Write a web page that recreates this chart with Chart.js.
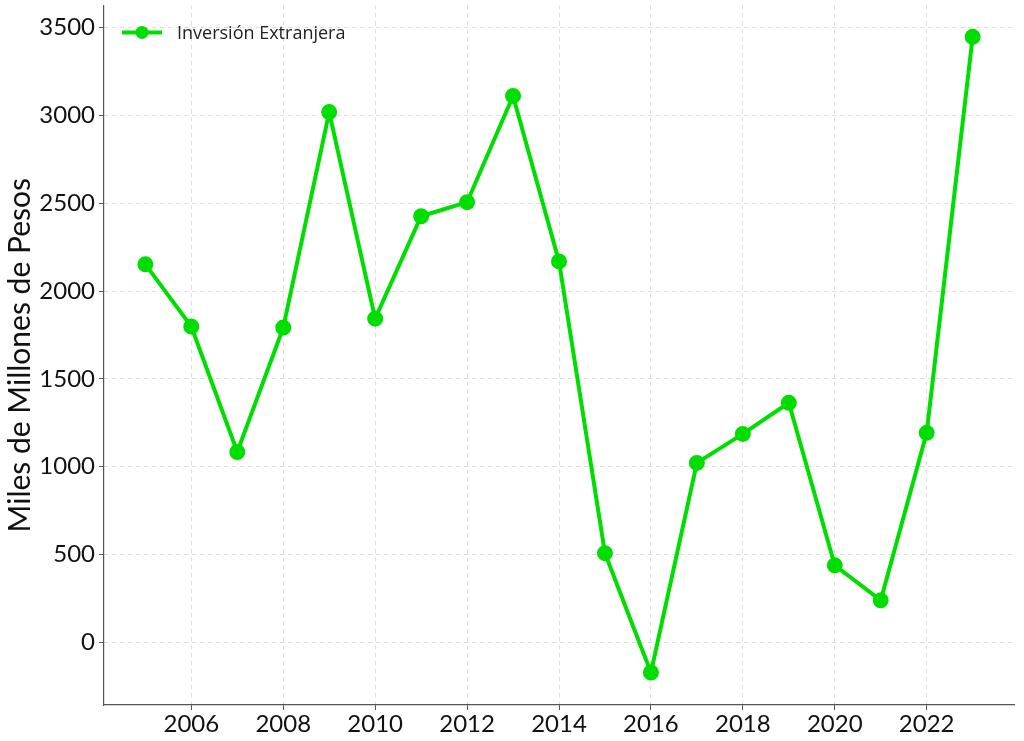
<!DOCTYPE html>
<html>
<head>
<meta charset="utf-8">
<script src="https://cdn.jsdelivr.net/npm/chart.js@4/dist/chart.umd.min.js"></script>
<style>
	html, body { margin: 0; padding: 0; background: #fff; overflow: hidden; }
	#wrap { position: absolute; left: 0; top: -13px; width: 1024px; height: 754px; }
</style>
</head>
<body>
<div id="wrap"><canvas id="graphique"></canvas></div>
<script>
// Données
const annees = [2005, 2006, 2007, 2008, 2009, 2010, 2011, 2012, 2013, 2014, 2015, 2016, 2017, 2018, 2019, 2020, 2021, 2022, 2023];
const inversion = [2152, 1798, 1084, 1792, 3019, 1843, 2426, 2506, 3111, 2169, 508, -171, 1022, 1187, 1364, 439, 240, 1193, 3447];
const ticksX = [2006, 2008, 2010, 2012, 2014, 2016, 2018, 2020, 2022];
const ticksY = [0, 500, 1000, 1500, 2000, 2500, 3000, 3500];
const serieLabel = "Inversión Extranjera";
const titreY = "Miles de Millones de Pesos";

const vert = "#00dd00";
const police = "Lato, 'Open Sans', sans-serif";

// Légende dessinée à la main (ligne + point)
const legendePlugin = {
	id: "legende",
	afterDraw(chart) {
		const ctx = chart.ctx;
		const x = chart.chartArea.left + 18;
		const y = chart.chartArea.top + 27;
		ctx.save();
		ctx.strokeStyle = vert;
		ctx.lineWidth = 4;
		ctx.beginPath();
		ctx.moveTo(x, y);
		ctx.lineTo(x + 40, y);
		ctx.stroke();
		ctx.fillStyle = vert;
		ctx.beginPath();
		ctx.arc(x + 20, y, 6.5, 0, Math.PI * 2);
		ctx.fill();
		ctx.fillStyle = "#222";
		ctx.font = "18px 'Open Sans', sans-serif";
		ctx.textBaseline = "middle";
		ctx.fillText(serieLabel, x + 55, y + 1);
		ctx.restore();
	}
};

const data = {
	datasets: [{
		label: serieLabel,
		data: annees.map((a, i) => ({ x: a, y: inversion[i] })),
		borderColor: vert,
		backgroundColor: vert,
		borderWidth: 4,
		pointRadius: 6,
		pointHoverRadius: 6,
		tension: 0,
	}],
};

const config = {
	type: "line",
	data: data,
	plugins: [legendePlugin],
	options: {
		responsive: true,
		maintainAspectRatio: false,
		animation: false,
		layout: { padding: { top: 0, right: 7, left: 0, bottom: 0 } },
		plugins: {
			legend: { display: false },
			tooltip: { enabled: false },
		},
		scales: {
			x: {
				type: "linear",
				min: 2004.1,
				max: 2023.9,
				afterBuildTicks: (axis) => { axis.ticks = ticksX.map(v => ({ value: v })); },
				afterFit: (axis) => { axis.height = 36; },
				border: { display: true, color: "#555", width: 1.2, dash: [4, 4] },
				grid: {
					color: "#dcdcdc",
					tickColor: "#555",
					tickLength: 5,
				},
				ticks: {
					color: "#111",
					font: { family: police, size: 24 },
					padding: 0,
					maxRotation: 0,
					callback: (v) => String(v),
				},
			},
			y: {
				type: "linear",
				min: -356,
				max: 3626,
				afterBuildTicks: (axis) => { axis.ticks = ticksY.map(v => ({ value: v })); },
				afterFit: (axis) => { axis.width = 104; },
				border: { display: true, color: "#555", width: 1.2, dash: [4, 4] },
				grid: {
					color: "#dcdcdc",
					tickColor: "#555",
					tickLength: 5,
				},
				ticks: {
					color: "#111",
					font: { family: police, size: 24 },
					padding: 4,
					callback: (v) => String(v),
				},
				title: {
					display: true,
					text: titreY,
					color: "#111",
					font: { family: police, size: 30 },
					padding: { top: 2, bottom: 0 },
				},
			},
		},
	},
};

new Chart(document.querySelector("#graphique"), config);
</script>
</body>
</html>
